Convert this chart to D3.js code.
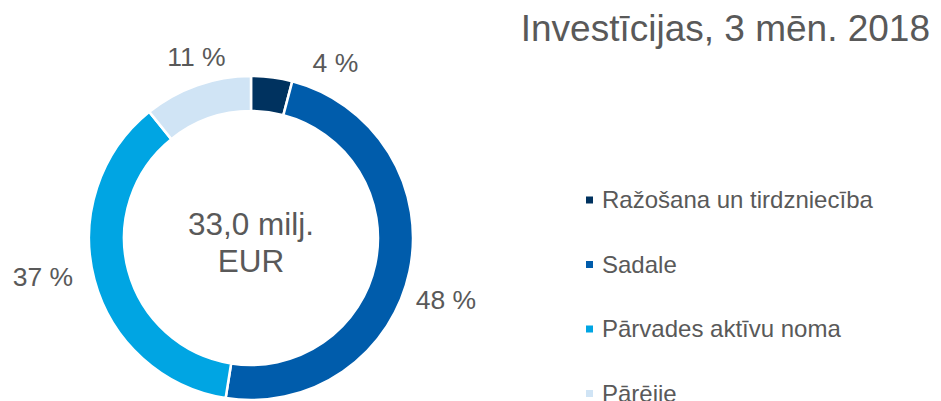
<!DOCTYPE html>
<html>
<head>
<meta charset="utf-8">
<script src="https://cdn.jsdelivr.net/npm/d3@7"></script>
<style>
  body { margin: 0; background: #fff; }
  text { font-family: "Liberation Sans", Arial, sans-serif; fill: #595959; }
</style>
</head>
<body>
<svg id="chart" width="941" height="401"></svg>
<script>
"use strict";

// chart data
const title = "Investīcijas, 3 mēn. 2018";
const centerLines = ["33,0 milj.", "EUR"];
const categories = ["Ražošana un tirdzniecība", "Sadale", "Pārvades aktīvu noma", "Pārējie"];
const shares = [4.1, 48.4, 36.7, 10.8];
const shareLabels = ["4 %", "48 %", "37 %", "11 %"];
const colors = ["#00325f", "#005cab", "#00a5e3", "#d0e4f5"];

const svg = d3.select("#chart");
const cx = 251, cy = 238;
const outerR = 162, innerR = 127;

const pie = d3.pie().sort(null).value(d => d.value);
const arc = d3.arc().innerRadius(innerR).outerRadius(outerR);
const labelArc = d3.arc().innerRadius(190).outerRadius(190);

const data = categories.map((c, i) => ({ name: c, value: shares[i], label: shareLabels[i] }));
const arcs = pie(data);

const g = svg.append("g").attr("transform", `translate(${cx},${cy})`);

g.selectAll("path.slice")
    .data(arcs)
    .enter()
    .append("path")
    .attr("class", "slice")
    .attr("d", arc)
    .attr("fill", (_, i) => colors[i])
    .attr("stroke", "#fff")
    .attr("stroke-width", 2.5);

// excel pushes the labels around a bit, nudge them to match
const nudge = [[60, 13.5], [9, 23], [-24.5, -10], [8.6, -2.3]];
g.selectAll("text.pct")
    .data(arcs)
    .enter()
    .append("text")
    .attr("class", "pct")
    .attr("x", (d, i) => labelArc.centroid(d)[0] + nudge[i][0])
    .attr("y", (d, i) => labelArc.centroid(d)[1] + nudge[i][1])
    .attr("dy", "0.35em")
    .attr("text-anchor", "middle")
    .style("font-size", "26.5px")
    .text(d => d.data.label);

g.selectAll("text.center")
    .data(centerLines)
    .enter()
    .append("text")
    .attr("class", "center")
    .attr("x", 0)
    .attr("y", (_, i) => -3 + i * 37)
    .attr("text-anchor", "middle")
    .style("font-size", "31.5px")
    .text(d => d);

svg.append("text")
    .attr("x", 930)
    .attr("y", 41)
    .attr("text-anchor", "end")
    .style("font-size", "37px")
    .text(title);

// legend
const legend = svg.append("g").attr("transform", "translate(586,0)");
const rows = legend.selectAll("g.row")
    .data(categories)
    .enter()
    .append("g")
    .attr("class", "row")
    .attr("transform", (_, i) => `translate(0,${200 + i * 64.5})`);

rows.append("rect")
    .attr("x", 0)
    .attr("y", -3.5)
    .attr("width", 7)
    .attr("height", 7)
    .attr("fill", (_, i) => colors[i]);

rows.append("text")
    .attr("x", 16)
    .attr("y", 8)
    .style("font-size", "24px")
    .text(d => d);
</script>
</body>
</html>
